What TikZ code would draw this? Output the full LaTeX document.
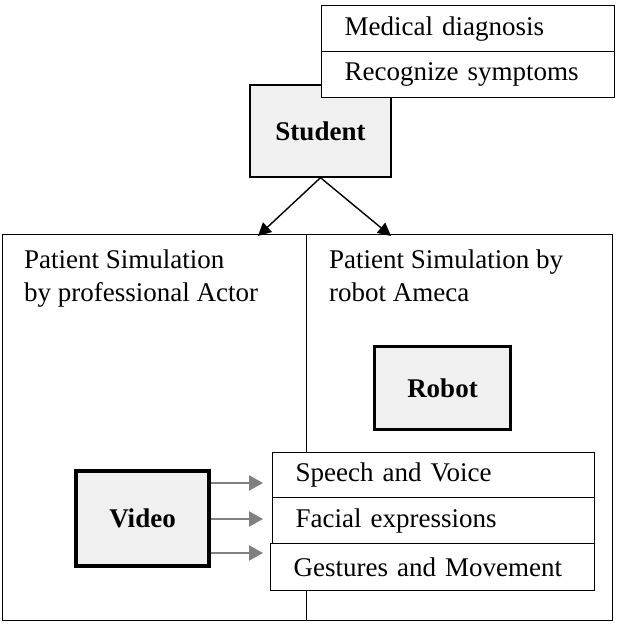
\documentclass[tikz,border=0pt]{standalone}
\usepackage{fontspec}
\setmainfont{Liberation Serif}
\usetikzlibrary{arrows.meta}
\definecolor{boxgray}{HTML}{F0F0F0}
\definecolor{arrgray}{HTML}{808080}
\begin{document}
\begin{tikzpicture}[x=1pt,y=-1pt,
  thinbox/.style={draw=black,line width=1.4pt,fill=white},
  grayfill/.style={draw=black,fill=boxgray,inner sep=0pt,font=\fontsize{27}{33}\selectfont\bfseries},
  listbox/.style={draw=black,line width=1.4pt,fill=white,anchor=north west,inner xsep=23pt,inner ysep=0pt,
     align=left,font=\fontsize{27}{33}\selectfont},
  plaintext/.style={anchor=north west,align=left,inner sep=0pt,font=\fontsize{27}{33}\selectfont},
  blackarrow/.style={line width=1.4pt,-{Triangle[length=13pt,width=13pt]}},
  grayarrow/.style={draw=arrgray,line width=2.2pt,-{Triangle[length=14pt,width=15pt]},arrgray},
]
\useasboundingbox (0,0) rectangle (617,624);
% outer panels
\node[thinbox,anchor=north west,minimum width=304pt,minimum height=386pt,inner sep=0pt] (left) at (2,234) {};
\node[thinbox,anchor=north west,minimum width=306pt,minimum height=386pt,inner sep=0pt] (right) at (306,234) {};
\node[plaintext] (lt) at (24,250) {Patient Simulation\\by professional Actor};
\node[plaintext] (rt) at (329,250) {Patient Simulation by\\robot Ameca};
% student
\node[grayfill,line width=1.4pt,minimum width=141pt,minimum height=92pt] (student) at (320.5,131) {Student};
% top list
\node[listbox,text width=247pt,minimum height=46pt] (med) at (321,5) {Medical diagnosis};
\node[listbox,text width=247pt,minimum height=46pt] (rec) at (321,51) {Recognize symptoms};
% arrows from student
\coordinate (tl) at (258,236);
\coordinate (tr) at (391,236);
\draw[blackarrow] (student.south) -- (tl);
\draw[blackarrow] (student.south) -- (tr);
% robot
\node[grayfill,line width=3.5pt,minimum width=136pt,minimum height=83pt] (robot) at (442.5,388) {Robot};
% video
\node[grayfill,line width=3.5pt,minimum width=133pt,minimum height=95pt] (video) at (142.5,518.5) {Video};
% features list
\node[listbox,text width=276pt,minimum height=45pt] (speech) at (272,452) {Speech and Voice};
\node[listbox,text width=276pt,minimum height=46pt] (facial) at (272,497) {Facial expressions};
\node[listbox,text width=278pt,minimum height=47pt] (gest) at (270,543) {Gestures and Movement};
% gray arrows
\coordinate (g1) at (263,483);
\coordinate (g2) at (263,519);
\coordinate (g3) at (263,553);
\draw[grayarrow] (video.east |- g1) -- (g1);
\draw[grayarrow] (video.east |- g2) -- (g2);
\draw[grayarrow] (video.east |- g3) -- (g3);
\end{tikzpicture}
\end{document}
